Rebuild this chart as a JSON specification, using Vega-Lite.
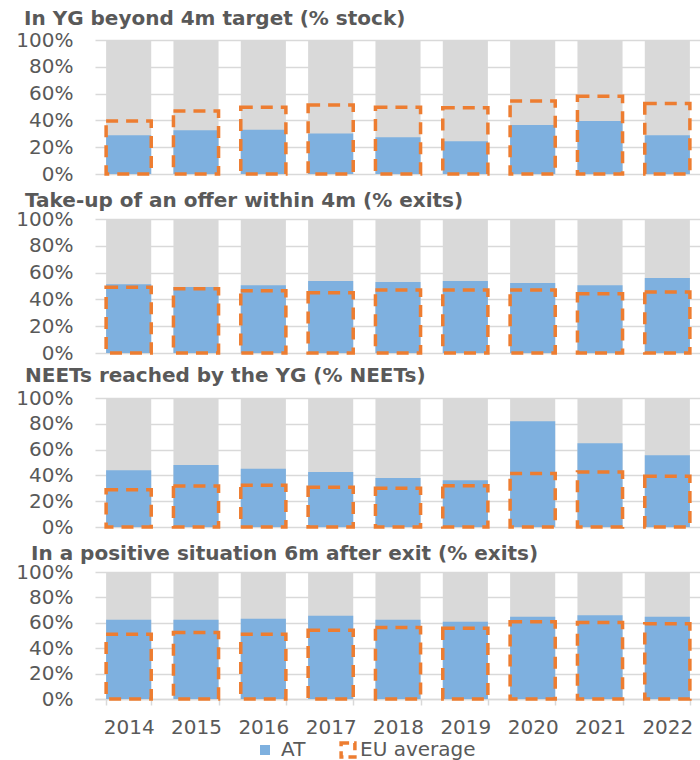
{
  "$schema": "https://vega.github.io/schema/vega-lite/v6.json",
  "padding": {"left": 15, "top": 9, "right": 0, "bottom": 0},
  "bounds": "flush",
  "spacing": 45,
  "config": {
    "view": {"stroke": null},
    "font": "DejaVu Sans",
    "axis": {"labelFont": "DejaVu Sans", "labelFontSize": 20, "labelColor": "#595959", "gridColor": "#d9d9d9", "gridWidth": 1.5, "domainColor": "#d9d9d9", "tickColor": "#d9d9d9", "labelOverlap": false},
    "axisQuantitative": {"labelOverlap": false, "grid": true},
    "axisY": {"values": [0, 20, 40, 60, 80, 100], "labelExpr": "datum.value + '%'", "title": null, "ticks": false, "domain": false, "labelPadding": 22, "labelOverlap": false, "grid": true},
    "legend": {"orient": "none", "direction": "horizontal", "title": null, "labelFontSize": 20, "labelColor": "#595959", "labelFont": "DejaVu Sans", "symbolType": "square", "labelOffset": 6},
    "title": {"font": "DejaVu Sans", "fontSize": 20, "fontWeight": "bold", "color": "#595959", "anchor": "start", "frame": "group", "baseline": "alphabetic"}
  },
  "data": {"values": [
    {"panel": "p1", "year": "2014", "series": "AT", "value": 29},
    {"panel": "p1", "year": "2015", "series": "AT", "value": 32.6},
    {"panel": "p1", "year": "2016", "series": "AT", "value": 33},
    {"panel": "p1", "year": "2017", "series": "AT", "value": 30.3},
    {"panel": "p1", "year": "2018", "series": "AT", "value": 27.4},
    {"panel": "p1", "year": "2019", "series": "AT", "value": 24.4},
    {"panel": "p1", "year": "2020", "series": "AT", "value": 36.6},
    {"panel": "p1", "year": "2021", "series": "AT", "value": 39.5},
    {"panel": "p1", "year": "2022", "series": "AT", "value": 29},
    {"panel": "p1", "year": "2014", "series": "EU average", "value": 39.5},
    {"panel": "p1", "year": "2015", "series": "EU average", "value": 47},
    {"panel": "p1", "year": "2016", "series": "EU average", "value": 49.8},
    {"panel": "p1", "year": "2017", "series": "EU average", "value": 51.5},
    {"panel": "p1", "year": "2018", "series": "EU average", "value": 49.8},
    {"panel": "p1", "year": "2019", "series": "EU average", "value": 49.5},
    {"panel": "p1", "year": "2020", "series": "EU average", "value": 54.5},
    {"panel": "p1", "year": "2021", "series": "EU average", "value": 58},
    {"panel": "p1", "year": "2022", "series": "EU average", "value": 52.7},
    {"panel": "p2", "year": "2014", "series": "AT", "value": 51.3},
    {"panel": "p2", "year": "2015", "series": "AT", "value": 49.3},
    {"panel": "p2", "year": "2016", "series": "AT", "value": 50.5},
    {"panel": "p2", "year": "2017", "series": "AT", "value": 53.8},
    {"panel": "p2", "year": "2018", "series": "AT", "value": 53},
    {"panel": "p2", "year": "2019", "series": "AT", "value": 53.8},
    {"panel": "p2", "year": "2020", "series": "AT", "value": 52.3},
    {"panel": "p2", "year": "2021", "series": "AT", "value": 50.5},
    {"panel": "p2", "year": "2022", "series": "AT", "value": 56},
    {"panel": "p2", "year": "2014", "series": "EU average", "value": 49},
    {"panel": "p2", "year": "2015", "series": "EU average", "value": 48},
    {"panel": "p2", "year": "2016", "series": "EU average", "value": 46.5},
    {"panel": "p2", "year": "2017", "series": "EU average", "value": 45},
    {"panel": "p2", "year": "2018", "series": "EU average", "value": 47},
    {"panel": "p2", "year": "2019", "series": "EU average", "value": 47},
    {"panel": "p2", "year": "2020", "series": "EU average", "value": 47},
    {"panel": "p2", "year": "2021", "series": "EU average", "value": 44.3},
    {"panel": "p2", "year": "2022", "series": "EU average", "value": 45.5},
    {"panel": "p3", "year": "2014", "series": "AT", "value": 43.9},
    {"panel": "p3", "year": "2015", "series": "AT", "value": 48},
    {"panel": "p3", "year": "2016", "series": "AT", "value": 45.2},
    {"panel": "p3", "year": "2017", "series": "AT", "value": 42.6},
    {"panel": "p3", "year": "2018", "series": "AT", "value": 37.9},
    {"panel": "p3", "year": "2019", "series": "AT", "value": 36.3},
    {"panel": "p3", "year": "2020", "series": "AT", "value": 82},
    {"panel": "p3", "year": "2021", "series": "AT", "value": 65},
    {"panel": "p3", "year": "2022", "series": "AT", "value": 55.6},
    {"panel": "p3", "year": "2014", "series": "EU average", "value": 28.8},
    {"panel": "p3", "year": "2015", "series": "EU average", "value": 31.7},
    {"panel": "p3", "year": "2016", "series": "EU average", "value": 32.4},
    {"panel": "p3", "year": "2017", "series": "EU average", "value": 30.9},
    {"panel": "p3", "year": "2018", "series": "EU average", "value": 30.1},
    {"panel": "p3", "year": "2019", "series": "EU average", "value": 32},
    {"panel": "p3", "year": "2020", "series": "EU average", "value": 41.5},
    {"panel": "p3", "year": "2021", "series": "EU average", "value": 42.6},
    {"panel": "p3", "year": "2022", "series": "EU average", "value": 39.4},
    {"panel": "p4", "year": "2014", "series": "AT", "value": 62.4},
    {"panel": "p4", "year": "2015", "series": "AT", "value": 62.4},
    {"panel": "p4", "year": "2016", "series": "AT", "value": 63.2},
    {"panel": "p4", "year": "2017", "series": "AT", "value": 65.5},
    {"panel": "p4", "year": "2018", "series": "AT", "value": 62.4},
    {"panel": "p4", "year": "2019", "series": "AT", "value": 60.8},
    {"panel": "p4", "year": "2020", "series": "AT", "value": 64.7},
    {"panel": "p4", "year": "2021", "series": "AT", "value": 66},
    {"panel": "p4", "year": "2022", "series": "AT", "value": 64.7},
    {"panel": "p4", "year": "2014", "series": "EU average", "value": 51},
    {"panel": "p4", "year": "2015", "series": "EU average", "value": 52.4},
    {"panel": "p4", "year": "2016", "series": "EU average", "value": 51},
    {"panel": "p4", "year": "2017", "series": "EU average", "value": 54.2},
    {"panel": "p4", "year": "2018", "series": "EU average", "value": 56.3},
    {"panel": "p4", "year": "2019", "series": "EU average", "value": 55.8},
    {"panel": "p4", "year": "2020", "series": "EU average", "value": 60.8},
    {"panel": "p4", "year": "2021", "series": "EU average", "value": 60.3},
    {"panel": "p4", "year": "2022", "series": "EU average", "value": 59.2}
  ]},
  "vconcat": [
    {
      "title": {"text": "In YG beyond 4m target (% stock)", "dx": -71, "offset": 1},
      "width": 606, "height": 134,
      "transform": [{"filter": "datum.panel === 'p1'"}],
      "encoding": {
        "x": {"field": "year", "type": "ordinal", "scale": {"paddingInner": 0.33, "paddingOuter": 0.165}, "axis": null}
      },
      "layer": [
        {"transform": [{"filter": "datum.series === 'AT'"}], "mark": {"type": "bar", "color": "#d9d9d9"},
         "encoding": {"y": {"datum": 100, "type": "quantitative", "scale": {"domain": [0, 100]}, "axis": {"labelOverlap": false, "grid": true}}}},
        {"transform": [{"filter": "datum.series === 'AT'"}], "mark": {"type": "bar"},
         "encoding": {"y": {"field": "value", "type": "quantitative", "axis": {"labelOverlap": false, "grid": true}},
                      "fill": {"field": "series", "type": "nominal", "scale": {"domain": ["AT"], "range": ["#7eb0df"]}}}},
        {"transform": [{"filter": "datum.series === 'EU average'"}], "mark": {"type": "bar", "filled": false, "strokeWidth": 3.5, "strokeDash": [12, 8]},
         "encoding": {"y": {"field": "value", "type": "quantitative", "axis": {"labelOverlap": false, "grid": true}},
                      "stroke": {"field": "series", "type": "nominal", "scale": {"domain": ["EU average"], "range": ["#ed7d31"]}}}}
      ]
    },
    {
      "title": {"text": "Take-up of an offer within 4m (% exits)", "dx": -70, "offset": -2},
      "width": 606, "height": 134,
      "transform": [{"filter": "datum.panel === 'p2'"}],
      "encoding": {
        "x": {"field": "year", "type": "ordinal", "scale": {"paddingInner": 0.33, "paddingOuter": 0.165}, "axis": null}
      },
      "layer": [
        {"transform": [{"filter": "datum.series === 'AT'"}], "mark": {"type": "bar", "color": "#d9d9d9"},
         "encoding": {"y": {"datum": 100, "type": "quantitative", "scale": {"domain": [0, 100]}, "axis": {"labelOverlap": false, "grid": true}}}},
        {"transform": [{"filter": "datum.series === 'AT'"}], "mark": {"type": "bar"},
         "encoding": {"y": {"field": "value", "type": "quantitative", "axis": {"labelOverlap": false, "grid": true}},
                      "fill": {"field": "series", "type": "nominal"}}},
        {"transform": [{"filter": "datum.series === 'EU average'"}], "mark": {"type": "bar", "filled": false, "strokeWidth": 3.5, "strokeDash": [12, 8]},
         "encoding": {"y": {"field": "value", "type": "quantitative", "axis": {"labelOverlap": false, "grid": true}},
                      "stroke": {"field": "series", "type": "nominal"}}}
      ]
    },
    {
      "title": {"text": "NEETs reached by the YG (% NEETs)", "dx": -70, "offset": 2},
      "width": 606, "height": 129,
      "transform": [{"filter": "datum.panel === 'p3'"}],
      "encoding": {
        "x": {"field": "year", "type": "ordinal", "scale": {"paddingInner": 0.33, "paddingOuter": 0.165}, "axis": null}
      },
      "layer": [
        {"transform": [{"filter": "datum.series === 'AT'"}], "mark": {"type": "bar", "color": "#d9d9d9"},
         "encoding": {"y": {"datum": 100, "type": "quantitative", "scale": {"domain": [0, 100]}, "axis": {"labelOverlap": false, "grid": true}}}},
        {"transform": [{"filter": "datum.series === 'AT'"}], "mark": {"type": "bar"},
         "encoding": {"y": {"field": "value", "type": "quantitative", "axis": {"labelOverlap": false, "grid": true}},
                      "fill": {"field": "series", "type": "nominal"}}},
        {"transform": [{"filter": "datum.series === 'EU average'"}], "mark": {"type": "bar", "filled": false, "strokeWidth": 3.5, "strokeDash": [12, 8]},
         "encoding": {"y": {"field": "value", "type": "quantitative", "axis": {"labelOverlap": false, "grid": true}},
                      "stroke": {"field": "series", "type": "nominal"}}}
      ]
    },
    {
      "title": {"text": "In a positive situation 6m after exit (% exits)", "dx": -64, "offset": -2},
      "width": 606, "height": 127,
      "transform": [{"filter": "datum.panel === 'p4'"}],
      "encoding": {
        "x": {"field": "year", "type": "ordinal", "scale": {"paddingInner": 0.33, "paddingOuter": 0.165},
              "axis": {"title": null, "labelAngle": 0, "tickBand": "extent", "tickSize": 6, "labelPadding": 12, "domainWidth": 1.5, "tickWidth": 1.5, "grid": false}}
      },
      "layer": [
        {"transform": [{"filter": "datum.series === 'AT'"}], "mark": {"type": "bar", "color": "#d9d9d9"},
         "encoding": {"y": {"datum": 100, "type": "quantitative", "scale": {"domain": [0, 100]}, "axis": {"labelOverlap": false, "grid": true}}}},
        {"transform": [{"filter": "datum.series === 'AT'"}], "mark": {"type": "bar"},
         "encoding": {"y": {"field": "value", "type": "quantitative", "axis": {"labelOverlap": false, "grid": true}},
                      "fill": {"field": "series", "type": "nominal",
                               "legend": {"orient": "none", "legendX": 160, "legendY": 700, "symbolSize": 100}}}},
        {"transform": [{"filter": "datum.series === 'EU average'"}], "mark": {"type": "bar", "filled": false, "strokeWidth": 3.5, "strokeDash": [12, 8]},
         "encoding": {"y": {"field": "value", "type": "quantitative", "axis": {"labelOverlap": false, "grid": true}},
                      "stroke": {"field": "series", "type": "nominal",
                                 "legend": {"orient": "none", "legendX": 243, "legendY": 700, "symbolSize": 190, "symbolStrokeWidth": 3.5, "symbolDash": [8, 5], "symbolFillColor": "transparent", "labelOffset": 2}}}}
      ]
    }
  ]
}
